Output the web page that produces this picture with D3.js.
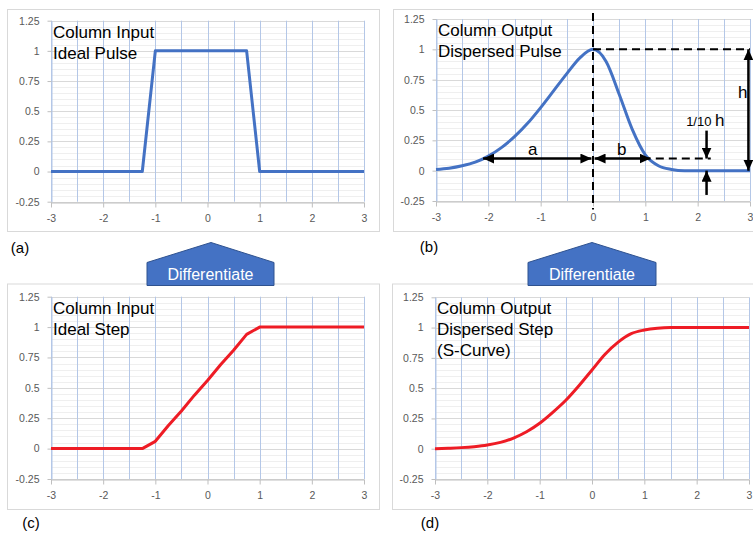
<!DOCTYPE html>
<html>
<head>
<meta charset="utf-8">
<script src="https://cdn.jsdelivr.net/npm/d3@7"></script>
<style>
  body { margin: 0; background: #fff; }
  svg { display: block; font-family: "Liberation Sans", Arial, sans-serif; }
  .tick text { fill: #595959; font-size: 10.5px; }
</style>
</head>
<body>
<svg id="chart" width="753" height="536"></svg>
<script>
// x positions shared by every series
var xValues = [-3, -2.75, -2.5, -2.25, -2, -1.75, -1.5, -1.25, -1, -0.75, -0.5, -0.25,
               0, 0.25, 0.5, 0.75, 1, 1.25, 1.5, 1.75, 2, 2.25, 2.5, 2.75, 3];

// (a) ideal pulse into the column
var pulseIn = [0, 0, 0, 0, 0, 0, 0, 0, 1, 1, 1, 1, 1, 1, 1, 1, 0, 0, 0, 0, 0, 0, 0, 0, 0];
// (b) dispersed pulse out of the column
var pulseOut = [0.01, 0.02, 0.04, 0.07, 0.12, 0.19, 0.28, 0.39, 0.52, 0.66, 0.80, 0.93,
                1.0, 0.90, 0.63, 0.34, 0.13, 0.04, 0.01, 0, 0, 0, 0, 0, 0];
// (c) ideal step into the column
var stepIn = [0, 0, 0, 0, 0, 0, 0, 0, 0.06, 0.19, 0.31, 0.44, 0.56, 0.69, 0.81, 0.94,
              1, 1, 1, 1, 1, 1, 1, 1, 1];
// (d) dispersed step out (S-curve)
var stepOut = [0, 0.004, 0.009, 0.017, 0.03, 0.052, 0.088, 0.14, 0.21, 0.30, 0.40, 0.52,
               0.65, 0.78, 0.88, 0.95, 0.98, 0.995, 1, 1, 1, 1, 1, 1, 1];

// axis ticks
var xTickValues = [-3, -2, -1, 0, 1, 2, 3];
var xTickLabels = ["-3", "-2", "-1", "0", "1", "2", "3"];
var yTickValues = [-0.25, 0, 0.25, 0.5, 0.75, 1, 1.25];
var yTickLabels = ["-0.25", "0", "0.25", "0.5", "0.75", "1", "1.25"];

// annotation values for panel (b), in data units
var peakX = 0, peakH = 1, tenthH = 0.1;
var aLeftX = -2.1, bRightX = 1.1;
var tenthDashEnd = 2.25, markerX = 2.17, hArrowX = 2.97;

var blue = "#4472c4", red = "#ee1c25";

// panel layout: frame box and plot box in pixels
var panels = [
  { frame: [7, 9, 372, 222], plot: [51, 20.7, 313, 181], values: pulseIn, color: blue,
    curve: d3.curveLinear, title: ["Column Input", "Ideal Pulse"], label: "(a)", labelPos: [20, 253] },
  { frame: [393, 9, 380, 222], plot: [436, 19, 314, 182], values: pulseOut, color: blue,
    curve: d3.curveMonotoneX, title: ["Column Output", "Dispersed Pulse"], label: "(b)", labelPos: [429, 252] },
  { frame: [7, 283.5, 372, 225.5], plot: [51, 296.7, 313, 182.3], values: stepIn, color: red,
    curve: d3.curveLinear, title: ["Column Input", "Ideal Step"], label: "(c)", labelPos: [31, 528] },
  { frame: [392, 283.5, 380, 225.5], plot: [435, 297.3, 314, 181.7], values: stepOut, color: red,
    curve: d3.curveMonotoneX, title: ["Column Output", "Dispersed Step", "(S-Curve)"], label: "(d)", labelPos: [430, 528] }
];

var svg = d3.select("#chart");

svg.append("defs").append("marker")
    .attr("id", "arrow")
    .attr("markerUnits", "userSpaceOnUse")
    .attr("markerWidth", 11)
    .attr("markerHeight", 10)
    .attr("refX", 11)
    .attr("refY", 5)
    .attr("orient", "auto-start-reverse")
  .append("path")
    .attr("d", "M0,0 L11,5 L0,10 Z")
    .attr("fill", "#000");

function drawPanel(p, i) {
    var g = svg.append("g");

    g.append("rect")
        .attr("x", p.frame[0] + 0.5).attr("y", p.frame[1] + 0.5)
        .attr("width", p.frame[2]).attr("height", p.frame[3])
        .attr("fill", "#fff").attr("stroke", "#d9d9d9");

    var x = d3.scaleLinear().domain([-3, 3]).range([p.plot[0], p.plot[0] + p.plot[2]]);
    var y = d3.scaleLinear().domain([-0.25, 1.25]).range([p.plot[1] + p.plot[3], p.plot[1]]);
    p.x = x; p.y = y;

    // minor horizontal grid every 0.05
    g.selectAll(".hminor").data(d3.range(-0.25, 1.2501, 0.05)).enter().append("line")
        .attr("x1", x(-3)).attr("x2", x(3))
        .attr("y1", function(d) { return Math.round(y(d)) + 0.5; })
        .attr("y2", function(d) { return Math.round(y(d)) + 0.5; })
        .attr("stroke", "#efefef");
    // major horizontal grid every 0.25
    g.selectAll(".hmajor").data(yTickValues).enter().append("line")
        .attr("x1", x(-3)).attr("x2", x(3))
        .attr("y1", function(d) { return Math.round(y(d)) + 0.5; })
        .attr("y2", function(d) { return Math.round(y(d)) + 0.5; })
        .attr("stroke", "#d9d9d9");
    // vertical grid every 0.5
    g.selectAll(".vgrid").data(d3.range(-3, 3.01, 0.5)).enter().append("line")
        .attr("y1", y(-0.25)).attr("y2", y(1.25))
        .attr("x1", function(d) { return Math.round(x(d)) + 0.5; })
        .attr("x2", function(d) { return Math.round(x(d)) + 0.5; })
        .attr("stroke", "#b4c7e7");

    var xAxis = g.append("g")
        .attr("transform", "translate(0," + (Math.round(y(-0.25)) + 0.5) + ")")
        .call(d3.axisBottom(x).tickValues(xTickValues)
            .tickFormat(function(d, k) { return xTickLabels[k]; })
            .tickSize(5).tickSizeOuter(0).tickPadding(7));
    xAxis.select(".domain").attr("stroke", "#bfbfbf");
    xAxis.selectAll(".tick line").attr("stroke", "#bfbfbf");

    var yAxis = g.append("g")
        .attr("transform", "translate(" + (Math.round(x(-3)) + 0.5) + ",0)")
        .call(d3.axisLeft(y).tickValues(yTickValues)
            .tickFormat(function(d, k) { return yTickLabels[k]; })
            .tickSize(4).tickSizeOuter(0).tickPadding(8));
    yAxis.select(".domain").attr("stroke", "#b4c7e7");
    yAxis.selectAll(".tick line").attr("stroke", "#bfbfbf");
    g.selectAll(".tick text").attr("font-family", "'Liberation Sans', Arial, sans-serif");

    var line = d3.line()
        .x(function(d, k) { return x(xValues[k]); })
        .y(function(d) { return y(d); })
        .curve(p.curve);

    g.append("path")
        .datum(p.values)
        .attr("d", line)
        .attr("fill", "none")
        .attr("stroke", p.color)
        .attr("stroke-width", 3)
        .attr("stroke-linejoin", "round");

    g.selectAll(".title").data(p.title).enter().append("text")
        .attr("x", p.plot[0] + 2)
        .attr("y", function(d, k) { return p.plot[1] + 17 + k * 21; })
        .attr("font-size", 17)
        .attr("fill", "#000")
        .text(function(d) { return d; });

    g.append("text")
        .attr("x", p.labelPos[0]).attr("y", p.labelPos[1])
        .attr("text-anchor", "middle")
        .attr("font-size", 15)
        .text(p.label);
}

panels.forEach(drawPanel);

// annotations on panel (b)
var pb = panels[1], ax = pb.x, ay = pb.y;
var ann = svg.append("g").attr("stroke", "#000").attr("fill", "none");

function dashed(x1, y1, x2, y2) {
    ann.append("line")
        .attr("x1", ax(x1)).attr("y1", ay(y1)).attr("x2", ax(x2)).attr("y2", ay(y2))
        .attr("stroke-width", 2).attr("stroke-dasharray", "8,5");
}
function arrow(x1, y1, x2, y2, both) {
    var l = ann.append("line")
        .attr("x1", ax(x1)).attr("y1", ay(y1)).attr("x2", ax(x2)).attr("y2", ay(y2))
        .attr("stroke-width", 2.5)
        .attr("marker-end", "url(#arrow)");
    if (both) l.attr("marker-start", "url(#arrow)");
}

dashed(peakX, 1.3, peakX, -0.32);
dashed(peakX, peakH, 3, peakH);
dashed(bRightX + 0.1, tenthH, tenthDashEnd, tenthH);
arrow(aLeftX, tenthH, peakX - 0.03, tenthH, true);
arrow(peakX + 0.03, tenthH, bRightX, tenthH, true);
arrow(hArrowX, peakH, hArrowX, 0, true);
arrow(markerX, 0.33, markerX, tenthH, false);
arrow(markerX, -0.2, markerX, 0, false);

var annText = svg.append("g").attr("fill", "#000");
annText.append("text").attr("x", ax(-1.15)).attr("y", ay(0.13))
    .attr("text-anchor", "middle").attr("font-size", 17).text("a");
annText.append("text").attr("x", ax(0.55)).attr("y", ay(0.13))
    .attr("text-anchor", "middle").attr("font-size", 17).text("b");
annText.append("text").attr("x", ax(2.86)).attr("y", ay(0.6))
    .attr("text-anchor", "middle").attr("font-size", 17).text("h");
var tenth = annText.append("text").attr("x", ax(1.78)).attr("y", ay(0.37));
tenth.append("tspan").attr("font-size", 13).text("1/10 ");
tenth.append("tspan").attr("font-size", 17).text("h");

// "Differentiate" arrows between the rows
var boxes = [
  { left: 147, right: 274, peak: 211 },
  { left: 528, right: 656, peak: 592 }
];
boxes.forEach(function(b) {
    svg.append("path")
        .attr("d", "M" + b.left + ",285.5 L" + b.left + ",262.5 L" + b.peak + ",242.5 L" +
              b.right + ",262.5 L" + b.right + ",285.5 Z")
        .attr("fill", blue)
        .attr("stroke", "#2f528f")
        .attr("stroke-width", 1);
    svg.append("text")
        .attr("x", (b.left + b.right) / 2)
        .attr("y", 280)
        .attr("text-anchor", "middle")
        .attr("font-size", 16)
        .attr("fill", "#fff")
        .text("Differentiate");
});
</script>
</body>
</html>
